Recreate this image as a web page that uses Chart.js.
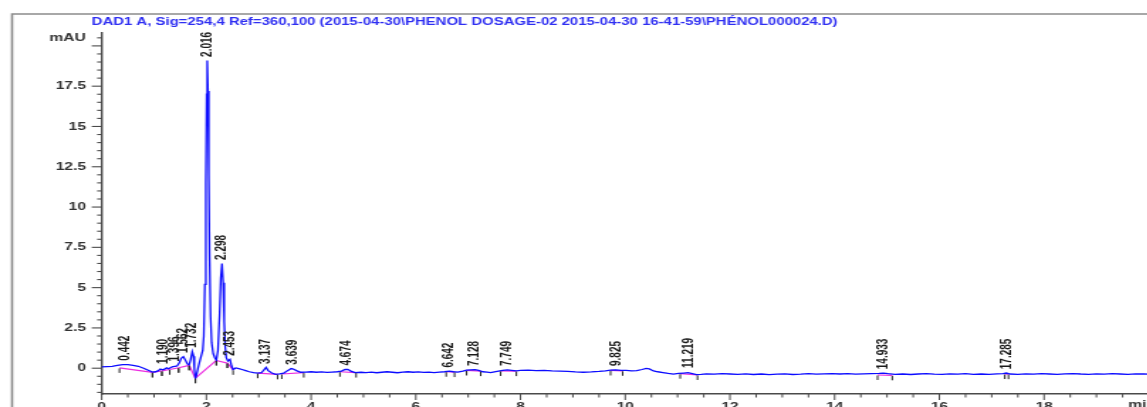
<!DOCTYPE html>
<html>
<head>
<meta charset="utf-8">
<title>DAD1 A chromatogram</title>
<script src="https://cdn.jsdelivr.net/npm/chart.js@4.4.0/dist/chart.umd.min.js"></script>
<style>
  html, body { margin: 0; padding: 0; background: #fff; overflow: hidden; width: 1147px; height: 407px; }
  /* the printout is stretched sideways, so the chart is drawn narrow and widened */
  #wrap { position: absolute; left: 0; top: 0; width: 815px; height: 420px; transform: scaleX(1.42); transform-origin: 0 0; }
</style>
</head>
<body>
<div id="wrap"><canvas id="chrom"></canvas></div>
<script>
// Signal trace (retention time in min, absorbance in mAU)
const traceTimes = [
  0.00, 0.10, 0.20, 0.30, 0.40, 0.50, 0.60, 0.70, 0.80, 0.90, 0.97, 1.03, 1.08, 1.12, 1.16, 1.20,
  1.24, 1.28, 1.32, 1.36, 1.40, 1.44, 1.48, 1.52, 1.56, 1.60, 1.64, 1.67, 1.70, 1.73, 1.755, 1.77,
  1.79, 1.81, 1.84, 1.87, 1.90, 1.93, 1.95, 1.97, 1.99, 2.005, 2.016, 2.03, 2.045, 2.06, 2.08, 2.10,
  2.13, 2.16, 2.19, 2.22, 2.25, 2.275, 2.298, 2.32, 2.34, 2.36, 2.38, 2.41, 2.45, 2.48, 2.51, 2.56,
  2.62, 2.68, 2.75, 2.82, 2.90, 2.98, 3.05, 3.10, 3.14, 3.18, 3.25, 3.32, 3.40, 3.48, 3.55, 3.62,
  3.66, 3.72, 3.80, 3.90, 4.00, 4.10, 4.20, 4.30, 4.40, 4.50, 4.58, 4.65, 4.70, 4.76, 4.84, 4.95,
  5.05, 5.15, 5.25, 5.35, 5.45, 5.55, 5.65, 5.75, 5.85, 5.95, 6.05, 6.15, 6.25, 6.35, 6.45, 6.55,
  6.64, 6.72, 6.80, 6.90, 6.97, 7.05, 7.13, 7.20, 7.28, 7.36, 7.43, 7.50, 7.58, 7.66, 7.75, 7.83,
  7.92, 8.00, 8.15, 8.30, 8.45, 8.60, 8.75, 8.90, 9.05, 9.20, 9.35, 9.50, 9.62, 9.72, 9.82, 9.92,
  10.02, 10.12, 10.22, 10.32, 10.40, 10.46, 10.54, 10.62, 10.72, 10.82, 10.92, 11.02, 11.12, 11.20, 11.28, 11.36,
  11.45, 11.55, 11.70, 11.85, 12.00, 12.15, 12.30, 12.45, 12.60, 12.75, 12.90, 13.05, 13.20, 13.35, 13.50, 13.65,
  13.80, 13.95, 14.10, 14.25, 14.40, 14.55, 14.70, 14.85, 14.93, 15.02, 15.15, 15.30, 15.45, 15.60, 15.75, 15.90,
  16.05, 16.20, 16.35, 16.50, 16.65, 16.80, 16.95, 17.10, 17.22, 17.28, 17.35, 17.50, 17.65, 17.80, 17.95, 18.10,
  18.25, 18.40, 18.55, 18.70, 18.85, 19.00, 19.15, 19.30, 19.45, 19.60, 19.75, 19.90, 20.00
];
const traceValues = [
  0.08, 0.10, 0.12, 0.17, 0.22, 0.22, 0.18, 0.12, 0.00, -0.14, -0.24, -0.22, -0.15, -0.05, -0.10, -0.06,
  0.02, -0.03, 0.04, 0.10, 0.12, 0.14, 0.32, 0.62, 0.72, 0.50, 0.25, 0.20, 0.55, 1.02, 0.75, -0.05,
  -0.62, -0.45, 0.00, 0.40, 0.75, 1.10, 2.0, 5.2, 11.5, 17.0, 19.1, 17.2, 12.0, 7.0, 3.2, 1.6,
  0.90, 0.65, 0.50, 1.10, 3.20, 5.60, 6.50, 5.30, 2.90, 1.30, 0.65, 0.45, 0.55, 0.15, -0.08, 0.02,
  -0.02, -0.08, -0.15, -0.22, -0.28, -0.30, -0.28, -0.10, 0.05, -0.15, -0.30, -0.38, -0.35, -0.30, -0.15, -0.02,
  -0.05, -0.15, -0.25, -0.24, -0.22, -0.25, -0.23, -0.26, -0.24, -0.22, -0.18, -0.08, -0.07, -0.18, -0.27, -0.25,
  -0.27, -0.24, -0.28, -0.25, -0.22, -0.25, -0.28, -0.24, -0.22, -0.25, -0.23, -0.26, -0.24, -0.27, -0.24, -0.22,
  -0.18, -0.22, -0.24, -0.18, -0.12, -0.10, -0.09, -0.13, -0.22, -0.24, -0.27, -0.22, -0.18, -0.14, -0.10, -0.13,
  -0.16, -0.14, -0.12, -0.15, -0.13, -0.16, -0.18, -0.20, -0.23, -0.25, -0.23, -0.20, -0.16, -0.12, -0.10, -0.13,
  -0.14, -0.17, -0.15, -0.08, -0.01, -0.04, -0.17, -0.22, -0.27, -0.32, -0.36, -0.32, -0.30, -0.28, -0.33, -0.40,
  -0.38, -0.35, -0.37, -0.34, -0.36, -0.38, -0.35, -0.39, -0.36, -0.40, -0.37, -0.35, -0.39, -0.37, -0.34, -0.37,
  -0.35, -0.33, -0.36, -0.34, -0.37, -0.35, -0.33, -0.32, -0.30, -0.34, -0.38, -0.36, -0.39, -0.36, -0.34, -0.37,
  -0.38, -0.35, -0.37, -0.34, -0.38, -0.36, -0.38, -0.35, -0.34, -0.30, -0.36, -0.38, -0.35, -0.37, -0.34, -0.36,
  -0.38, -0.35, -0.33, -0.36, -0.38, -0.35, -0.37, -0.34, -0.36, -0.38, -0.35, -0.36, -0.37
];

// Integration baselines (one segment per peak)
const baseStartTimes  = [0.34, 0.97, 1.15, 1.30, 1.47, 1.67, 1.79, 2.19, 2.40, 2.98, 3.44, 4.55, 6.58, 6.97, 7.62, 9.72, 11.05, 14.82, 17.25];
const baseStartValues = [0.02, -0.26, -0.17, -0.08, 0.03, 0.18, -0.62, 0.48, 0.32, -0.31, -0.36, -0.22, -0.22, -0.14, -0.17, -0.14, -0.34, -0.42, -0.36];
const baseEndTimes    = [0.97, 1.15, 1.30, 1.47, 1.67, 1.79, 2.19, 2.40, 2.51, 3.36, 3.86, 4.86, 6.74, 7.24, 7.92, 9.95, 11.38, 15.10, 17.32];
const baseEndValues   = [-0.26, -0.17, -0.08, 0.03, 0.18, -0.62, 0.48, 0.32, -0.10, -0.38, -0.27, -0.27, -0.24, -0.18, -0.18, -0.16, -0.42, -0.44, -0.37];

// Peak apex labels
const peakTimes  = [0.442, 1.190, 1.396, 1.562, 1.732, 2.016, 2.298, 2.453, 3.137, 3.639, 4.674, 6.642, 7.128, 7.749, 9.825, 11.219, 14.933, 17.285];
const peakLabels = ['0.442', '1.190', '1.396', '1.562', '1.732', '2.016', '2.298', '2.453', '3.137', '3.639', '4.674', '6.642', '7.128', '7.749', '9.825', '11.219', '14.933', '17.285'];
const peakApex   = [0.25, 0.05, 0.20, 0.73, 1.05, 19.1, 6.5, 0.55, 0.05, 0.0, -0.05, -0.18, -0.08, -0.08, -0.08, -0.2, -0.28, -0.28];

const titleText = 'DAD1 A, Sig=254,4 Ref=360,100 (2015-04-30\\PHENOL DOSAGE-02 2015-04-30 16-41-59\\PHÉNOL000024.D)';
const FONT = "'Liberation Sans', Arial, sans-serif";

const tracePoints = traceTimes.map((t, i) => ({ x: t, y: traceValues[i] }));
const basePoints = [];
baseStartTimes.forEach((t, i) => {
  basePoints.push({ x: t, y: baseStartValues[i] });
  basePoints.push({ x: baseEndTimes[i], y: baseEndValues[i] });
  basePoints.push({ x: baseEndTimes[i], y: null }); // break between segments
});

// frame, title, axis tick marks, peak labels
const chromPlugin = {
  id: 'chromPlugin',
  beforeDraw(chart) {
    const ctx = chart.ctx;
    ctx.save();
    ctx.fillStyle = '#fff';
    ctx.fillRect(0, 0, chart.width, chart.height);
    ctx.strokeStyle = '#8c8c8c';
    ctx.lineWidth = 1.6;
    ctx.beginPath();
    ctx.moveTo(8.5, chart.height);
    ctx.lineTo(8.5, 14);
    ctx.lineTo(chart.width, 14);
    ctx.stroke();
    ctx.fillStyle = '#2e2ef2';
    ctx.font = 'bold 10.5px ' + FONT;
    ctx.textAlign = 'left';
    ctx.textBaseline = 'middle';
    ctx.fillText(titleText, 64.6, 22.5);
    ctx.restore();
  },
  afterDatasetsDraw(chart) {
    const ctx = chart.ctx;
    const xs = chart.scales.x, ys = chart.scales.y;
    ctx.save();
    // integration event marks
    ctx.strokeStyle = '#222';
    ctx.lineWidth = 1;
    const marks = [];
    baseStartTimes.forEach((t, i) => marks.push([t, baseStartValues[i]]));
    baseEndTimes.forEach((t, i) => marks.push([t, baseEndValues[i]]));
    marks.forEach(([t, v]) => {
      const px = xs.getPixelForValue(t), py = ys.getPixelForValue(v);
      ctx.beginPath();
      ctx.moveTo(px, py + 0.5);
      ctx.lineTo(px, py + 5);
      ctx.stroke();
    });
    // retention time labels
    ctx.fillStyle = '#1a1a1a';
    ctx.font = 'bold 10px ' + FONT;
    ctx.textAlign = 'left';
    ctx.textBaseline = 'middle';
    peakTimes.forEach((t, i) => {
      ctx.save();
      ctx.translate(xs.getPixelForValue(t), ys.getPixelForValue(peakApex[i]) - 3.5);
      ctx.rotate(-Math.PI / 2);
      ctx.fillText(peakLabels[i], 0, 0);
      ctx.restore();
    });
    ctx.restore();
  },
  afterDraw(chart) {
    const ctx = chart.ctx;
    const xs = chart.scales.x, ys = chart.scales.y;
    const area = chart.chartArea;
    ctx.save();
    ctx.strokeStyle = '#4a4a4a';
    ctx.lineWidth = 1.1;
    for (let v = -1.5; v <= 20.5 + 1e-9; v += 0.5) {
      const py = ys.getPixelForValue(v);
      const major = Math.abs(v / 2.5 - Math.round(v / 2.5)) < 1e-6;
      ctx.beginPath();
      ctx.moveTo(area.left - (major ? 7 : 3.2), py);
      ctx.lineTo(area.left, py);
      ctx.stroke();
    }
    ctx.lineWidth = 1;
    for (let v = 0; v <= 20 + 1e-9; v += 0.5) {
      const px = xs.getPixelForValue(v);
      const major = Math.abs(v / 2 - Math.round(v / 2)) < 1e-6;
      ctx.beginPath();
      ctx.moveTo(px, area.bottom);
      ctx.lineTo(px, area.bottom + (major ? 6 : 3.5));
      ctx.stroke();
    }
    ctx.fillStyle = '#333';
    ctx.font = 'bold 11px ' + FONT;
    ctx.textAlign = 'right';
    ctx.textBaseline = 'middle';
    ctx.fillText('mAU', 60.5, 38.3);
    ctx.textAlign = 'left';
    ctx.textBaseline = 'top';
    ctx.fillText('min', 794.4, 399.5);
    ctx.restore();
  }
};

const ctx = document.getElementById('chrom').getContext('2d');
const chromChart = new Chart(ctx, {
  type: 'line',
  data: {
    datasets: [
      {
        label: 'DAD1 A',
        data: tracePoints,
        borderColor: 'rgb(12,12,255)',
        borderWidth: 1.3,
        pointRadius: 0,
        tension: 0,
        order: 1
      },
      {
        label: 'Baseline',
        data: basePoints,
        borderColor: '#ec2ee0',
        borderWidth: 1.2,
        pointRadius: 0,
        tension: 0,
        spanGaps: false,
        order: 2
      }
    ]
  },
  options: {
    responsive: true,
    maintainAspectRatio: false,
    animation: false,
    events: [],
    layout: { padding: { top: 33, right: 2, left: 0, bottom: 0 } },
    plugins: {
      legend: { display: false },
      tooltip: { enabled: false },
      title: { display: false }
    },
    scales: {
      x: {
        type: 'linear',
        min: 0,
        max: 20,
        grid: { display: false, drawTicks: false },
        border: { display: true, color: '#4a4a4a', width: 1.6 },
        ticks: {
          stepSize: 2,
          autoSkip: false,
          maxRotation: 0,
          padding: 6,
          color: '#333',
          font: { family: FONT, size: 11, weight: 'bold' },
          callback: v => (v <= 18 ? v : '')
        },
        afterFit: scale => { scale.height = 26; }
      },
      y: {
        type: 'linear',
        min: -1.6,
        max: 20.8,
        grid: { display: false, drawTicks: false },
        border: { display: true, color: '#4a4a4a', width: 1.4 },
        ticks: {
          stepSize: 2.5,
          autoSkip: false,
          padding: 11,
          color: '#333',
          font: { family: FONT, size: 11, weight: 'bold' },
          callback: v => (v >= 0 && v <= 17.5 && Math.abs(v / 2.5 - Math.round(v / 2.5)) < 1e-6 ? v : '')
        },
        afterFit: scale => { scale.width = 71.6; }
      }
    }
  },
  plugins: [chromPlugin]
});
</script>
</body>
</html>
